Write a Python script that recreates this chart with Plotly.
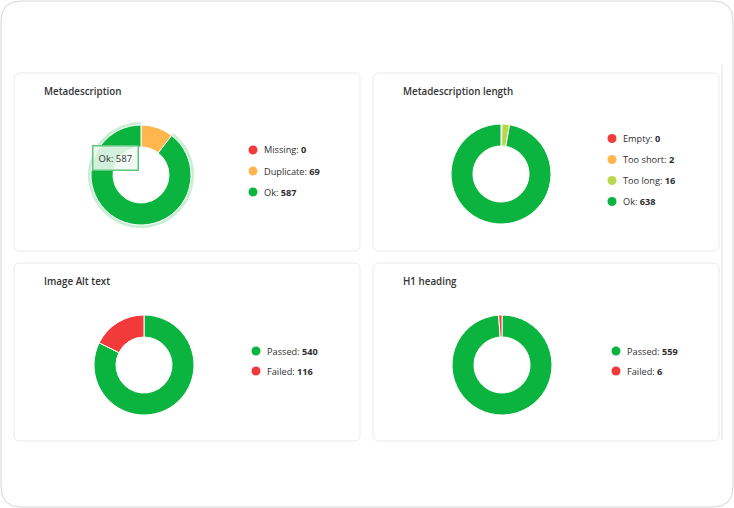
import plotly.graph_objects as go

W, H = 734, 508

# chart data
titles = ["Metadescription", "Metadescription length", "Image Alt text", "H1 heading"]
meta_labels = ["Missing", "Duplicate", "Ok"]
meta_values = [0, 69, 587]
length_labels = ["Empty", "Too short", "Too long", "Ok"]
length_values = [0, 2, 16, 638]
alt_labels = ["Passed", "Failed"]
alt_values = [540, 116]
h1_labels = ["Passed", "Failed"]
h1_values = [559, 6]

GREEN = "#0bb33f"
RED = "#f23a3a"
ORANGE = "#ffb64c"
LIME = "#b7d84a"

meta_colors = [RED, ORANGE, GREEN]
length_colors = [RED, ORANGE, LIME, GREEN]
alt_colors = [GREEN, RED]
h1_colors = [GREEN, RED]

charts = [
    dict(labels=meta_labels, values=meta_values, colors=meta_colors, card=(14, 73, 360, 251), center=(141, 175), legx=253),
    dict(labels=length_labels, values=length_values, colors=length_colors, card=(373, 73, 719, 251), center=(501, 174), legx=612),
    dict(labels=alt_labels, values=alt_values, colors=alt_colors, card=(14, 263, 360, 441), center=(144, 365), legx=256),
    dict(labels=h1_labels, values=h1_values, colors=h1_colors, card=(373, 263, 719, 441), center=(502, 365), legx=616),
]

R = 50
HOLE = 0.56
FONT = "Open Sans, Noto Sans, sans-serif"


def px(x):
    return x / W


def py(y):
    return 1 - y / H


def rounded_rect(x0, y0, x1, y1, r):
    # svg path in paper coords for a rounded rectangle
    pts = [
        f"M {px(x0 + r)},{py(y0)}",
        f"L {px(x1 - r)},{py(y0)}",
        f"Q {px(x1)},{py(y0)} {px(x1)},{py(y0 + r)}",
        f"L {px(x1)},{py(y1 - r)}",
        f"Q {px(x1)},{py(y1)} {px(x1 - r)},{py(y1)}",
        f"L {px(x0 + r)},{py(y1)}",
        f"Q {px(x0)},{py(y1)} {px(x0)},{py(y1 - r)}",
        f"L {px(x0)},{py(y0 + r)}",
        f"Q {px(x0)},{py(y0)} {px(x0 + r)},{py(y0)}",
        "Z",
    ]
    return " ".join(pts)


fig = go.Figure()
shapes = []
annotations = []

# outer frame
shapes.append(dict(type="path", xref="paper", yref="paper", path=rounded_rect(1, 1, 733, 507, 20),
                   line=dict(color="#d6d6d6", width=1), fillcolor="white", layer="below"))
# thin scroll line at right
shapes.append(dict(type="line", xref="paper", yref="paper", x0=px(722), x1=px(722), y0=py(65), y1=py(440),
                   line=dict(color="#ececec", width=1.5), layer="below"))

for i, c in enumerate(charts):
    x0, y0, x1, y1 = c["card"]
    shapes.append(dict(type="path", xref="paper", yref="paper", path=rounded_rect(x0, y0, x1, y1, 6),
                       line=dict(color="#ebebeb", width=1), fillcolor="white", layer="below"))
    annotations.append(dict(x=px(x0 + 28), y=py(y0 + 18), xref="paper", yref="paper", text=titles[i],
                            showarrow=False, xanchor="left", yanchor="middle",
                            font=dict(family=FONT, size=9.8, color="#333333", weight=600)))
    cx, cy = c["center"]

    if i == 0:
        # hover halo around the Ok slice
        halo_colors = ["rgba(0,0,0,0)"] * (len(c["values"]) - 1) + ["rgba(11,179,63,0.22)"]
        fig.add_trace(go.Pie(
            labels=c["labels"], values=c["values"], sort=False, direction="clockwise",
            hole=0.52, textinfo="none", hoverinfo="skip", showlegend=False,
            marker=dict(colors=halo_colors, line=dict(width=0)),
            domain=dict(x=[px(cx - R - 3), px(cx + R + 3)], y=[py(cy + R + 3), py(cy - R - 3)]),
        ))

    fig.add_trace(go.Pie(
        labels=c["labels"], values=c["values"], sort=False, direction="clockwise",
        hole=HOLE, textinfo="none", showlegend=False,
        marker=dict(colors=c["colors"], line=dict(color="white", width=1)),
        domain=dict(x=[px(cx - R), px(cx + R)], y=[py(cy + R), py(cy - R)]),
    ))

    # legend built from the data
    n = len(c["labels"])
    step = 21 if n > 2 else 20
    top = cy - 4 - step * (n - 1) / 2
    for k, (lab, val, col) in enumerate(zip(c["labels"], c["values"], c["colors"])):
        ly = top + k * step
        lx = c["legx"]
        shapes.append(dict(type="circle", xref="paper", yref="paper",
                           x0=px(lx - 4.5), x1=px(lx + 4.5), y0=py(ly + 4.5), y1=py(ly - 4.5),
                           fillcolor=col, line=dict(width=0)))
        annotations.append(dict(x=px(lx + 9), y=py(ly), xref="paper", yref="paper",
                                text=f"{lab}: <b>{val}</b>", showarrow=False,
                                xanchor="left", yanchor="middle",
                                font=dict(family=FONT, size=9.2, color="#2e2e2e")))

# tooltip shown on the first chart
annotations.append(dict(x=px(115), y=py(158), xref="paper", yref="paper",
                        text=f"{meta_labels[2]}: {meta_values[2]}", showarrow=False,
                        xanchor="center", yanchor="middle",
                        bgcolor="rgba(240,248,242,0.88)", bordercolor="#5cc77c", borderwidth=1.5, borderpad=5,
                        font=dict(family=FONT, size=9.5, color="#333333")))

fig.update_layout(
    width=W, height=H,
    margin=dict(l=0, r=0, t=0, b=0),
    paper_bgcolor="white", plot_bgcolor="white",
    shapes=shapes, annotations=annotations,
    showlegend=False,
)

# drop the page's default body margin so the figure sits at the window's corner
fig.write_html("out.html", config={"displayModeBar": False},
               post_script="document.body.style.margin='0';")
